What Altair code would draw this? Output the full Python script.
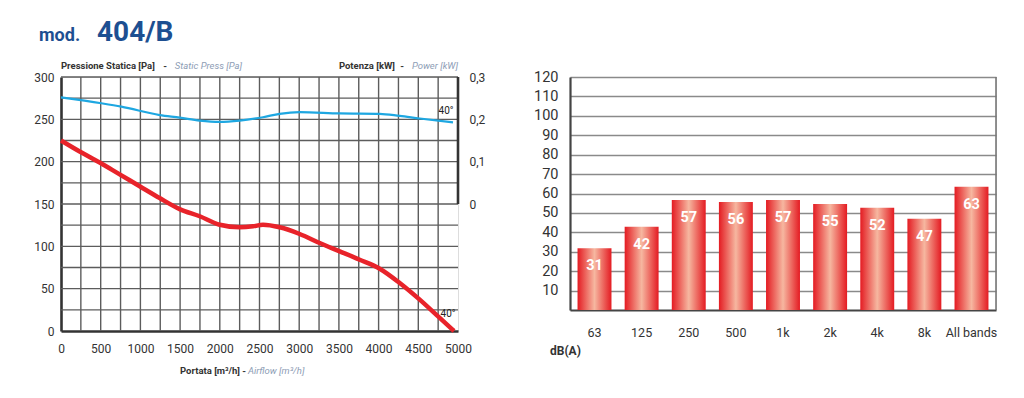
import altair as alt
import pandas as pd

FONT = "Roboto, Liberation Sans, sans-serif"

# ---------------- data: left chart (fan curve) ----------------
flow_p = [0, 235, 487, 739, 991, 1243, 1495, 1747, 1999, 2250, 2418, 2544, 2754,
          3006, 3258, 3510, 3762, 4014, 4266, 4518, 4770, 4950]
pressure = [225, 212, 199, 185, 171, 157, 144, 135.5, 125.5, 122.5, 123.6, 125.5, 122.5,
            114.6, 103.9, 94.1, 84.2, 73.6, 56.7, 37, 15.4, 0]
flow_w = [0, 508, 759, 1243, 1495, 1747, 1999, 2250, 2544, 2754, 3006, 3510, 4014,
          4266, 4518, 4937]
power = [0.252, 0.238, 0.230, 0.210, 0.204, 0.197, 0.194, 0.197, 0.205, 0.213, 0.217,
         0.214, 0.213, 0.208, 0.202, 0.193]
x_ticks = list(range(0, 5001, 500))
y_ticks = list(range(0, 301, 50))
power_ticks = [0, 0.1, 0.2, 0.3]
grid_flow = list(range(250, 5000, 250))
grid_press = list(range(25, 301, 25))
temp_label = ["40°", "40°"]
temp_flow = [4850, 4875]
temp_press = [260, 20]

# ---------------- data: right chart (sound) ----------------
bands = ["63", "125", "250", "500", "1k", "2k", "4k", "8k", "All bands"]
bar_height = [31.8, 42.9, 56.6, 55.6, 56.6, 54.6, 52.7, 47.0, 63.5]
bar_label = [31, 42, 57, 56, 57, 55, 52, 47, 63]
db_ticks = list(range(10, 121, 10))

LW, LH = 397, 254
RW, RH = 426, 233
DARK = "#333333"
GRID = "#5c5c5c"
BLUE_T = "#1d4f91"
ITAL = "#8d9db5"

press_df = pd.DataFrame({"flow": flow_p, "p": pressure})
power_df = pd.DataFrame({"flow": flow_w, "w": power})
vgrid_df = pd.DataFrame({"flow": grid_flow, "y0": 0, "y1": 300})
hgrid_df = pd.DataFrame({"p": grid_press, "x0": 0, "x1": 5000})
temp_df = pd.DataFrame({"t": temp_label, "flow": temp_flow, "p": temp_press})

xs = alt.Scale(domain=[0, 5000], nice=False, zero=True)
ys = alt.Scale(domain=[0, 300], nice=False)
X_AX = alt.Axis(values=x_ticks, title=None, ticks=False, grid=False, format="d",
                domainColor=DARK, domainWidth=2.6, labelPadding=12,
                labelFontSize=12, labelColor=DARK, labelFont=FONT,
                labelOverlap=False, labelFlush=False, labelBound=False)
Y_AX = alt.Axis(values=y_ticks, title=None, ticks=False, grid=False,
                domainColor=DARK, domainWidth=2.6, labelPadding=7,
                labelFontSize=12, labelColor=DARK, labelFont=FONT,
                labelOverlap=False, labelFlush=False, labelBound=False)

vgrid = alt.Chart(vgrid_df).mark_rule(color=GRID, strokeWidth=1.4).encode(
    x=alt.X("flow:Q", scale=xs, axis=X_AX),
    y=alt.Y("y0:Q", scale=ys, axis=Y_AX), y2="y1:Q")
hgrid = alt.Chart(hgrid_df).mark_rule(color=GRID, strokeWidth=1.4).encode(
    y=alt.Y("p:Q", scale=ys, axis=Y_AX),
    x=alt.X("x0:Q", scale=xs, axis=X_AX), x2="x1:Q")
right_edge = alt.Chart(pd.DataFrame({"f": [5000], "a": [150], "b": [300]})).mark_rule(
    color=DARK, strokeWidth=2.6).encode(
    x=alt.X("f:Q", scale=xs, axis=X_AX), y=alt.Y("a:Q", scale=ys, axis=Y_AX), y2="b:Q")

red = alt.Chart(press_df).mark_line(color="#e8232a", strokeWidth=4.5,
                                    interpolate="monotone").encode(
    x=alt.X("flow:Q", scale=xs, axis=X_AX),
    y=alt.Y("p:Q", scale=ys, axis=Y_AX))

temps = alt.Chart(temp_df).mark_text(fontSize=10, font=FONT, color="#222").encode(
    x=alt.X("flow:Q", scale=xs, axis=X_AX), y=alt.Y("p:Q", scale=ys, axis=Y_AX),
    text="t:N")

left_base = alt.layer(vgrid, hgrid, right_edge, red, temps)

blue = alt.Chart(power_df).mark_line(color="#1ea7e1", strokeWidth=2.2,
                                     interpolate="monotone").encode(
    x=alt.X("flow:Q", scale=xs, axis=X_AX),
    y=alt.Y("w:Q", scale=alt.Scale(domain=[-0.3, 0.3], nice=False),
            axis=alt.Axis(orient="right", values=power_ticks, title=None, ticks=False,
                          grid=False, domain=False, labelPadding=11, labelFontSize=12,
                          labelColor=DARK, labelFont=FONT, labelOverlap=False,
                          labelExpr="datum.value == 0 ? '0' : replace(format(datum.value, '.1f'), '.', ',')")))


def txt(s, x, y, size=9.5, weight="bold", style="normal", color=DARK, align="left",
        baseline="middle"):
    return alt.Chart(pd.DataFrame({"s": [s]})).mark_text(
        font=FONT, fontSize=size, fontWeight=weight, fontStyle=style, color=color,
        align=align, baseline=baseline).encode(
        x=alt.value(x), y=alt.value(y), text="s:N")


labels = [
    txt("mod.", -22, -36, size=18, color=BLUE_T, baseline="alphabetic"),
    txt("404/B", 36, -36, size=28, color=BLUE_T, baseline="alphabetic"),
    txt("Pressione Statica [Pa]", 0, -11),
    txt("-", 104, -11, align="center"),
    txt("Static Press [Pa]", 181, -11, weight="normal", style="italic", color=ITAL,
        align="right"),
    txt("Potenza [kW]", 334, -11, align="right"),
    txt("-", 341, -11, align="center"),
    txt("Power [kW]", 397, -11, weight="normal", style="italic", color=ITAL, align="right"),
    txt("Portata [m³/h]", 179, 294, align="right"),
    txt("-", 183, 294, align="center"),
    txt("Airflow [m³/h]", 187, 294, weight="normal", style="italic", color=ITAL),
]

left = alt.layer(left_base, blue, *labels).resolve_scale(y="independent").properties(
    width=LW, height=LH)

# ---------------- right chart ----------------
bar_df = pd.DataFrame({"band": bands, "h": bar_height, "lab": bar_label})
BX_AX = alt.Axis(title=None, labelAngle=0, ticks=False, domainColor="#444",
                 domainWidth=2.2, labelPadding=16, labelFontSize=12.5,
                 labelColor=DARK, labelFont=FONT)
BY_AX = alt.Axis(values=db_ticks, title=None, ticks=False, grid=True,
                 gridColor="#8a8a8a", gridWidth=1.6, domainColor="#444",
                 domainWidth=2.2, labelPadding=12, labelFontSize=14.5,
                 labelColor=DARK, labelFont=FONT, labelOverlap=False, labelBound=False,
                 labelFlush=False)
bscale_x = alt.Scale(paddingInner=0.28, paddingOuter=0.16)
bscale_y = alt.Scale(domain=[0, 120], nice=False)
grad = alt.Gradient(gradient="linear", x1=0, x2=1, y1=0, y2=0, stops=[
    alt.GradientStop(color="#e41b22", offset=0),
    alt.GradientStop(color="#f6b7a0", offset=0.5),
    alt.GradientStop(color="#e41b22", offset=1)])
bars = alt.Chart(bar_df).mark_bar(color=grad).encode(
    x=alt.X("band:N", sort=bands, scale=bscale_x, axis=BX_AX),
    y=alt.Y("h:Q", scale=bscale_y, axis=BY_AX))
bar_txt = alt.Chart(bar_df).mark_text(font=FONT, fontSize=14.5, fontWeight="bold",
                                      color="white", baseline="middle", dy=18).encode(
    x=alt.X("band:N", sort=bands, scale=bscale_x, axis=BX_AX),
    y=alt.Y("h:Q", scale=bscale_y, axis=BY_AX), text="lab:Q")
rborder = alt.Chart(pd.DataFrame({"a": [0]})).mark_rule(color="#777", strokeWidth=1.6).encode(
    x=alt.value(RW), y=alt.value(0), y2=alt.value(RH))
dba = txt("dB(A)", -20, 274, size=12)

right = alt.layer(bars, bar_txt, rborder, dba).properties(width=RW, height=RH)

chart = alt.hconcat(left, right, spacing=112, bounds="flush").properties(
    padding={"left": 25, "top": 10, "right": 5, "bottom": 5}
).configure_view(stroke=None).configure(background="white")

chart.save("out.html", embed_options={"renderer": "svg", "actions": False})
